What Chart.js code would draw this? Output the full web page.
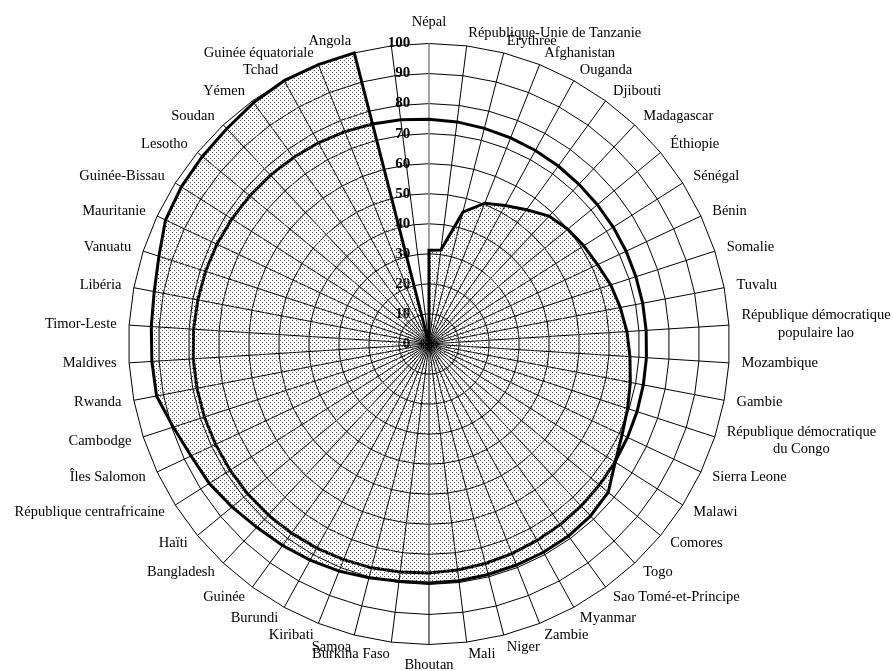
<!DOCTYPE html>
<html><head><meta charset="utf-8"><title>Radar PMA</title>
<script src="https://cdn.jsdelivr.net/npm/chart.js@4.4.1/dist/chart.umd.min.js"></script>
<style>body{margin:0;background:#fff;} canvas{display:block;}</style>
</head><body>
<canvas id="chart" width="893" height="671"></canvas>
<script>
var pays = ['Népal', 'République-Unie de Tanzanie', 'Érythrée', 'Afghanistan', 'Ouganda', 'Djibouti', 'Madagascar', 'Éthiopie', 'Sénégal', 'Bénin', 'Somalie', 'Tuvalu',
    ['République démocratique', 'populaire lao'], 'Mozambique', 'Gambie', ['République démocratique', 'du Congo'], 'Sierra Leone', 'Malawi', 'Comores', 'Togo',
    'Sao Tomé-et-Principe', 'Myanmar', 'Zambie', 'Niger', 'Mali', 'Bhoutan', 'Burkina Faso', 'Samoa', 'Kiribati', 'Burundi', 'Guinée', 'Bangladesh', 'Haïti',
    'République centrafricaine', 'Îles Salomon', 'Cambodge', 'Rwanda', 'Maldives', 'Timor-Leste', 'Libéria', 'Vanuatu', 'Mauritanie', 'Guinée-Bissau', 'Lesotho',
    'Soudan', 'Yémen', 'Tchad', 'Guinée équatoriale', 'Angola', ''];
var valeurs = [31.2, 31.5, 45.3, 50.4, 52.6, 55.2, 58.4, 59.9, 61.0, 62.0, 63.6, 64.8, 66.0, 67.0, 68.2, 69.5, 71.0, 73.4, 77.4, 78.5,
    79.0, 79.1, 79.1, 79.2, 79.4, 79.5, 79.6, 80.3, 81.3, 82.1, 82.9, 83.7, 85.1, 86.6, 87.5, 89.5, 92.3, 92.4, 92.6, 93.1,
    94.5, 96.9, 97.6, 97.9, 98.3, 99.3, 100, 100, 100, 0];
var cercle = [74.8, 74.5, 74.1, 73.8, 73.5, 73.2, 72.9, 72.7, 72.6, 72.5, 72.4, 72.4, 72.4, 72.5, 72.6, 72.8, 73.0, 73.3, 73.6, 73.9,
    74.3, 74.6, 75.0, 75.4, 75.8, 76.2, 76.5, 76.9, 77.2, 77.5, 77.8, 78.1, 78.3, 78.4, 78.5, 78.6, 78.6, 78.6, 78.5, 78.3,
    78.2, 78.0, 77.7, 77.4, 77.1, 76.7, 76.4, 76.0, 75.6, 75.2];
var graduations = [0, 10, 20, 30, 40, 50, 60, 70, 80, 90, 100];

var canvas = document.getElementById('chart');
var ctx = canvas.getContext('2d');

// trame pointillee du remplissage
var tuile = document.createElement('canvas');
tuile.width = 4; tuile.height = 4;
var tg = tuile.getContext('2d');
tg.fillStyle = '#555';
tg.fillRect(0, 0, 1, 1);
tg.fillRect(2, 2, 1, 1);
var trame = ctx.createPattern(tuile, 'repeat');

// centre et rayon du graphique, comme sur l'original
function caler(scale) {
    var l = scale.left, r = scale.right, t = scale.top, b = scale.bottom;
    scale.left = -5000; scale.right = 5000; scale.top = -5000; scale.bottom = 5000;
    scale.xCenter = 429; scale.yCenter = 344; scale.drawingArea = 300.5;
    scale.fit();
    scale.left = l; scale.right = r; scale.top = t; scale.bottom = b;
    var n = scale._pointLabelItems.length;
    scale._pointLabelItems.forEach(function(it, i) {
        var a = Math.round(i * 360 / n);
        var h = it.bottom - it.top;
        var dy = 0;
        if ((a > 0 && a < 90) || a > 270) dy = h / 2;
        else if ((a > 90 && a < 180) || (a > 180 && a < 270)) dy = -h / 2;
        else if (a === 180) dy = -1;
        it.y += dy; it.top += dy; it.bottom += dy;
        if (Array.isArray(pays[i])) { it.x = (it.left + it.right) / 2; it.textAlign = 'center'; }
    });
}

new Chart(ctx, {
    type: 'radar',
    data: {
        labels: pays,
        datasets: [
            { label: 'Indice', data: valeurs, borderColor: '#000', borderWidth: 3, backgroundColor: trame, fill: true, pointRadius: 0, tension: 0 },
            { label: 'Cercle', data: cercle, borderColor: '#000', borderWidth: 3, backgroundColor: 'transparent', fill: false, pointRadius: 0, tension: 0 }
        ]
    },
    options: {
        responsive: false,
        animation: false,
        events: [],
        plugins: { legend: { display: false }, tooltip: { enabled: false } },
        scales: {
            r: {
                min: -0.0001, max: 100,
                afterBuildTicks: function(s) { s.ticks = graduations.map(function(v) { return { value: v }; }); },
                afterFit: caler,
                grid: { color: '#000', lineWidth: 1 },
                angleLines: { color: function(c) { return c.index === 0 ? '#8c8c8c' : '#000'; }, lineWidth: function(c) { return c.index === 0 ? 1.6 : 1; } },
                ticks: {
                    showLabelBackdrop: false, color: '#000',
                    font: { family: 'Liberation Serif', size: 15, weight: 'bold' },
                    callback: function(v) { var s = String(Math.round(v)); return s + ' '.repeat(2 * s.length + 10); }
                },
                pointLabels: {
                    color: '#000', padding: 3,
                    font: { family: 'Liberation Serif', size: 14.5 }
                }
            }
        }
    }
});
</script>
</body></html>
